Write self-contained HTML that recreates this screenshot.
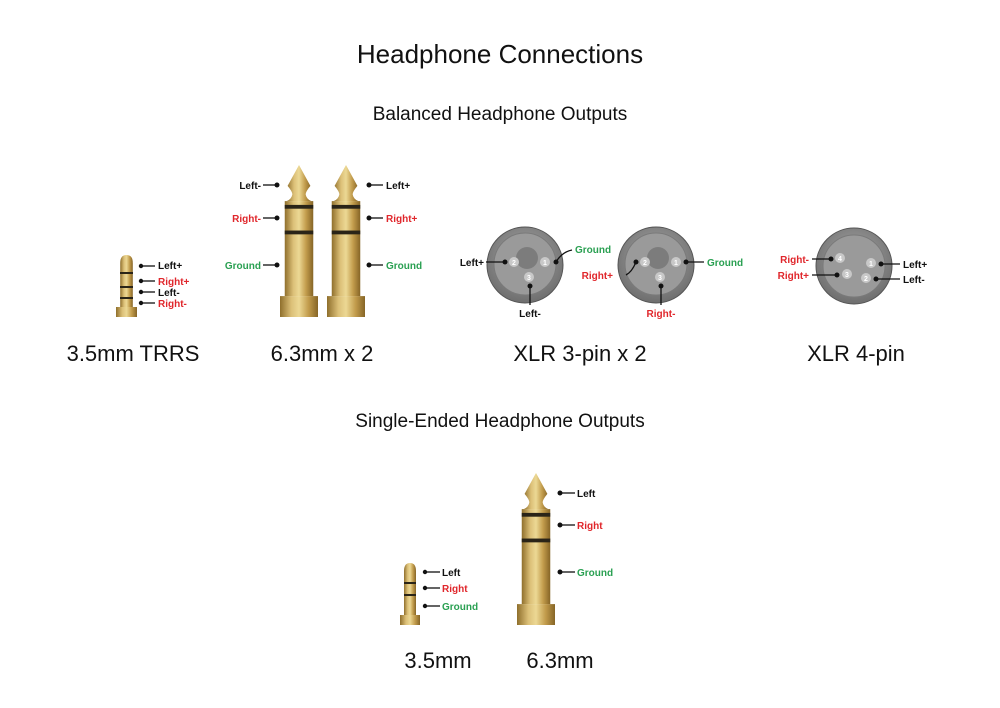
<!DOCTYPE html>
<html><head><meta charset="utf-8"><style>
html,body{margin:0;padding:0;background:#fff}
svg{display:block}
text{font-family:"Liberation Sans",sans-serif}
.lb{font-size:10px;font-weight:bold}
.k{fill:#111}.r{fill:#e0262b}.g{fill:#2aa052}
</style></head><body>
<svg width="1000" height="708" viewBox="0 0 1000 708" xmlns="http://www.w3.org/2000/svg">
<defs>
<linearGradient id="gold" x1="0" x2="1" y1="0" y2="0">
<stop offset="0" stop-color="#8f6f2c"/><stop offset="0.3" stop-color="#dcc078"/><stop offset="0.5" stop-color="#ecd894"/><stop offset="0.75" stop-color="#c29c4c"/><stop offset="1" stop-color="#866526"/>
</linearGradient>
<radialGradient id="xo" cx="0.5" cy="0.4" r="0.6"><stop offset="0" stop-color="#a8a8a8"/><stop offset="1" stop-color="#6e6e6e"/></radialGradient>
<symbol id="big" viewBox="0 0 40 160" preserveAspectRatio="none">
<rect x="0" y="138" width="40" height="22" fill="url(#gold)"/>
<rect x="5" y="38" width="30" height="100" fill="url(#gold)"/>
<path d="M20 0 L32 22 Q27 28 27 31 Q28 36 33 38 L7 38 Q12 36 13 31 Q13 28 8 22 Z" fill="url(#gold)"/>
<rect x="5" y="42" width="30" height="4" fill="#2a2418"/>
<rect x="5" y="69" width="30" height="4" fill="#2a2418"/>
</symbol>
<symbol id="small" viewBox="0 0 20 62" preserveAspectRatio="none">
<rect x="0" y="52" width="20" height="10" fill="url(#gold)"/>
<path d="M4 52 L4 8 Q4 0 10 0 Q16 0 16 8 L16 52 Z" fill="url(#gold)"/>
</symbol>
</defs>

<text x="500" y="63" font-size="26" text-anchor="middle" fill="#111">Headphone Connections</text>
<text x="500" y="120" font-size="19" text-anchor="middle" fill="#111">Balanced Headphone Outputs</text>
<text x="500" y="427" font-size="19" text-anchor="middle" fill="#111">Single-Ended Headphone Outputs</text>
<g font-size="22" fill="#111" text-anchor="middle">
<text x="133" y="361">3.5mm TRRS</text>
<text x="322" y="361">6.3mm x 2</text>
<text x="580" y="361">XLR 3-pin x 2</text>
<text x="856" y="361">XLR 4-pin</text>
<text x="438" y="668">3.5mm</text>
<text x="560" y="668">6.3mm</text>
</g>

<!-- TRRS -->
<svg x="116" y="255" width="21" height="62"><use href="#small"/></svg>
<g fill="#2a2418"><rect x="120" y="272" width="13" height="2"/><rect x="120" y="286" width="13" height="2"/><rect x="120" y="297" width="13" height="2"/></g>
<g stroke="#111" stroke-width="1.3"><line x1="141" y1="266" x2="155" y2="266"/><line x1="141" y1="281" x2="155" y2="281"/><line x1="141" y1="292" x2="155" y2="292"/><line x1="141" y1="303" x2="155" y2="303"/></g>
<g fill="#111"><circle cx="141" cy="266" r="2.2"/><circle cx="141" cy="281" r="2.2"/><circle cx="141" cy="292" r="2.2"/><circle cx="141" cy="303" r="2.2"/></g>
<text class="lb k" x="158" y="269">Left+</text>
<text class="lb r" x="158" y="285">Right+</text>
<text class="lb k" x="158" y="296">Left-</text>
<text class="lb r" x="158" y="307">Right-</text>

<!-- 6.3 x2 -->
<svg x="280" y="165" width="38" height="152"><use href="#big"/></svg>
<svg x="327" y="165" width="38" height="152"><use href="#big"/></svg>
<g stroke="#111" stroke-width="1.3">
<line x1="263" y1="185" x2="277" y2="185"/><line x1="263" y1="218" x2="277" y2="218"/><line x1="263" y1="265" x2="277" y2="265"/>
<line x1="369" y1="185" x2="383" y2="185"/><line x1="369" y1="218" x2="383" y2="218"/><line x1="369" y1="265" x2="383" y2="265"/>
</g>
<g fill="#111"><circle cx="277" cy="185" r="2.5"/><circle cx="277" cy="218" r="2.5"/><circle cx="277" cy="265" r="2.5"/><circle cx="369" cy="185" r="2.5"/><circle cx="369" cy="218" r="2.5"/><circle cx="369" cy="265" r="2.5"/></g>
<text class="lb k" x="261" y="189" text-anchor="end">Left-</text>
<text class="lb r" x="261" y="222" text-anchor="end">Right-</text>
<text class="lb g" x="261" y="269" text-anchor="end">Ground</text>
<text class="lb k" x="386" y="189">Left+</text>
<text class="lb r" x="386" y="222">Right+</text>
<text class="lb g" x="386" y="269">Ground</text>

<!-- XLR 3 -->
<g>
<circle cx="525" cy="265" r="38" fill="url(#xo)" stroke="#555" stroke-width="1"/>
<circle cx="525" cy="264" r="31" fill="#9a9a9a" stroke="#7a7a7a"/>
<circle cx="527" cy="258" r="11" fill="#7c7c7c"/>
<circle cx="514" cy="262" r="5" fill="#c8c8c8"/><text x="514" y="265" font-size="7" text-anchor="middle" fill="#fff" font-weight="bold">2</text>
<circle cx="545" cy="262" r="5" fill="#c8c8c8"/><text x="545" y="265" font-size="7" text-anchor="middle" fill="#fff" font-weight="bold">1</text>
<circle cx="529" cy="277" r="5" fill="#c8c8c8"/><text x="529" y="280" font-size="7" text-anchor="middle" fill="#fff" font-weight="bold">3</text>
</g>
<g>
<circle cx="656" cy="265" r="38" fill="url(#xo)" stroke="#555" stroke-width="1"/>
<circle cx="656" cy="264" r="31" fill="#9a9a9a" stroke="#7a7a7a"/>
<circle cx="658" cy="258" r="11" fill="#7c7c7c"/>
<circle cx="645" cy="262" r="5" fill="#c8c8c8"/><text x="645" y="265" font-size="7" text-anchor="middle" fill="#fff" font-weight="bold">2</text>
<circle cx="676" cy="262" r="5" fill="#c8c8c8"/><text x="676" y="265" font-size="7" text-anchor="middle" fill="#fff" font-weight="bold">1</text>
<circle cx="660" cy="277" r="5" fill="#c8c8c8"/><text x="660" y="280" font-size="7" text-anchor="middle" fill="#fff" font-weight="bold">3</text>
</g>
<g stroke="#111" stroke-width="1.3" fill="none">
<line x1="486" y1="262" x2="505" y2="262"/>
<path d="M556 262 Q562 252 572 250"/>
<line x1="530" y1="285" x2="530" y2="305"/>
<path d="M626 275 Q632 272 636 262"/>
<line x1="686" y1="262" x2="704" y2="262"/>
<line x1="661" y1="285" x2="661" y2="305"/>
</g>
<g fill="#111"><circle cx="505" cy="262" r="2.5"/><circle cx="556" cy="262" r="2.5"/><circle cx="530" cy="286" r="2.5"/><circle cx="636" cy="262" r="2.5"/><circle cx="686" cy="262" r="2.5"/><circle cx="661" cy="286" r="2.5"/></g>
<text class="lb k" x="484" y="266" text-anchor="end">Left+</text>
<text class="lb g" x="575" y="253">Ground</text>
<text class="lb k" x="530" y="317" text-anchor="middle">Left-</text>
<text class="lb r" x="613" y="279" text-anchor="end">Right+</text>
<text class="lb g" x="707" y="266">Ground</text>
<text class="lb r" x="661" y="317" text-anchor="middle">Right-</text>

<!-- XLR 4 -->
<circle cx="854" cy="266" r="38" fill="url(#xo)" stroke="#555"/>
<circle cx="854" cy="266" r="31" fill="#9a9a9a" stroke="#7a7a7a"/>
<circle cx="840" cy="258" r="5" fill="#c8c8c8"/><text x="840" y="261" font-size="7" text-anchor="middle" fill="#fff" font-weight="bold">4</text>
<circle cx="871" cy="263" r="5" fill="#c8c8c8"/><text x="871" y="266" font-size="7" text-anchor="middle" fill="#fff" font-weight="bold">1</text>
<circle cx="847" cy="274" r="5" fill="#c8c8c8"/><text x="847" y="277" font-size="7" text-anchor="middle" fill="#fff" font-weight="bold">3</text>
<circle cx="866" cy="278" r="5" fill="#c8c8c8"/><text x="866" y="281" font-size="7" text-anchor="middle" fill="#fff" font-weight="bold">2</text>
<g stroke="#111" stroke-width="1.3"><line x1="812" y1="259" x2="831" y2="259"/><line x1="812" y1="275" x2="837" y2="275"/><line x1="881" y1="264" x2="900" y2="264"/><line x1="876" y1="279" x2="900" y2="279"/></g>
<g fill="#111"><circle cx="831" cy="259" r="2.5"/><circle cx="837" cy="275" r="2.5"/><circle cx="881" cy="264" r="2.5"/><circle cx="876" cy="279" r="2.5"/></g>
<text class="lb r" x="809" y="263" text-anchor="end">Right-</text>
<text class="lb r" x="809" y="279" text-anchor="end">Right+</text>
<text class="lb k" x="903" y="268">Left+</text>
<text class="lb k" x="903" y="283">Left-</text>

<!-- single ended 3.5 -->
<svg x="400" y="563" width="20" height="62"><use href="#small"/></svg>
<g fill="#2a2418"><rect x="404" y="582" width="12" height="2"/><rect x="404" y="594" width="12" height="2"/></g>
<g stroke="#111" stroke-width="1.3"><line x1="425" y1="572" x2="440" y2="572"/><line x1="425" y1="588" x2="440" y2="588"/><line x1="425" y1="606" x2="440" y2="606"/></g>
<g fill="#111"><circle cx="425" cy="572" r="2.2"/><circle cx="425" cy="588" r="2.2"/><circle cx="425" cy="606" r="2.2"/></g>
<text class="lb k" x="442" y="576">Left</text>
<text class="lb r" x="442" y="592">Right</text>
<text class="lb g" x="442" y="610">Ground</text>

<!-- single ended 6.3 -->
<svg x="517" y="473" width="38" height="152"><use href="#big"/></svg>
<g stroke="#111" stroke-width="1.3"><line x1="560" y1="493" x2="575" y2="493"/><line x1="560" y1="525" x2="575" y2="525"/><line x1="560" y1="572" x2="575" y2="572"/></g>
<g fill="#111"><circle cx="560" cy="493" r="2.5"/><circle cx="560" cy="525" r="2.5"/><circle cx="560" cy="572" r="2.5"/></g>
<text class="lb k" x="577" y="497">Left</text>
<text class="lb r" x="577" y="529">Right</text>
<text class="lb g" x="577" y="576">Ground</text>
</svg>
</body></html>
